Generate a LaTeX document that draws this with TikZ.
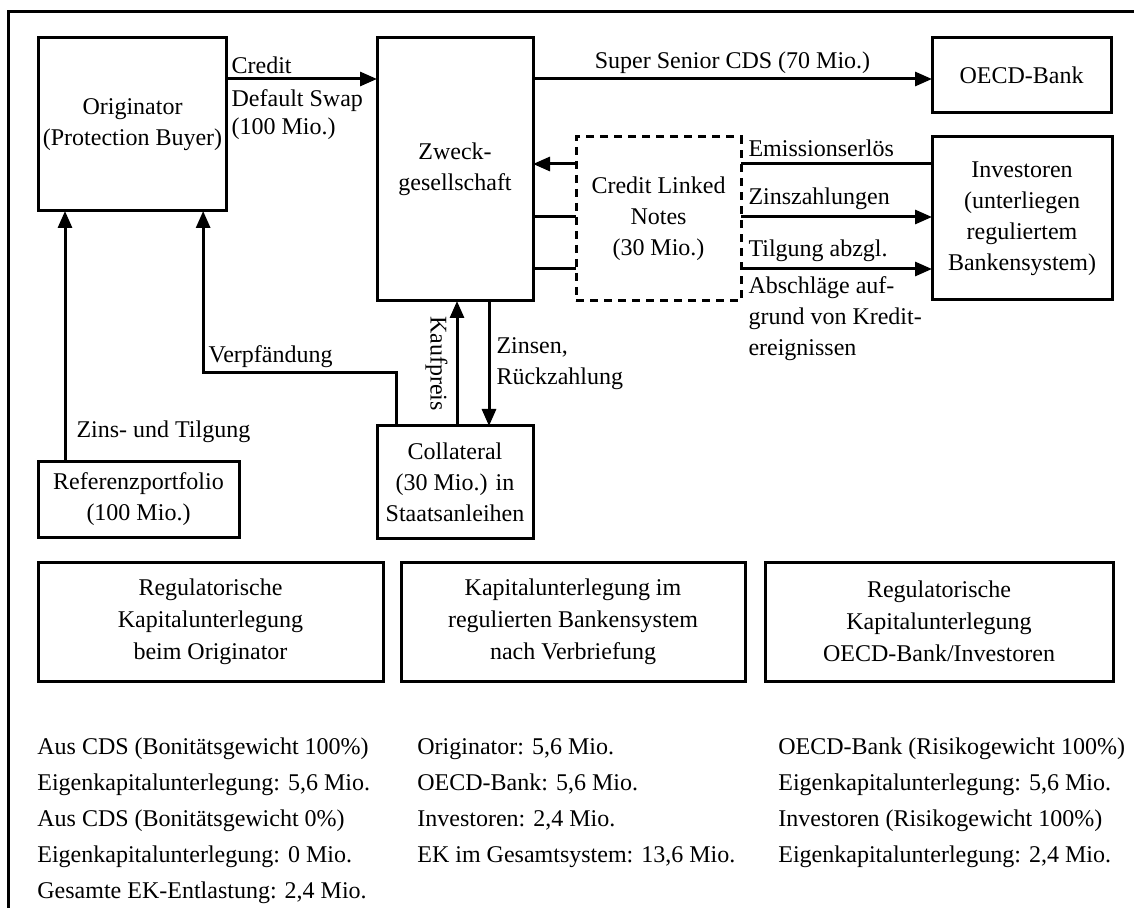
\documentclass[tikz,border=0pt]{standalone}
\usepackage{fontspec}
\setmainfont{Liberation Serif}
\usetikzlibrary{positioning,arrows.meta,calc}

\tikzset{
  box/.style={draw, line width=1.5pt, align=center, inner sep=2pt, outer sep=0pt},
  clnbox/.style={box, dash pattern=on 4pt off 3pt},
  flow/.style={line width=1.5pt},
  arr/.style={flow, -{Triangle[length=8.5pt,width=7pt]}},
  lbl/.style={inner sep=3pt, align=left},
  item/.style={inner sep=0pt, anchor=base west},
}

\begin{document}
\begin{tikzpicture}[x=0.5pt, y=-0.5pt, font=\fontsize{12}{15.5}\selectfont]

  \useasboundingbox (0,0) rectangle (1134,908);
  \draw[flow] (8,908) -- (8,12) -- (1134,12);

  % parties
  \node[box, minimum width=93.5pt, minimum height=86.5pt] (orig) at (132.5,124.5) {Originator\\(Protection Buyer)};
  \node[box, minimum width=78pt, minimum height=131.5pt] (zweck) at (455,169.5) {Zweck-\\gesellschaft};
  \node[box, minimum width=89.5pt, minimum height=37.5pt] (oecd) at (1021.5,75.5) {OECD-Bank};
  \node[clnbox, minimum width=82.5pt, minimum height=82pt] (notes) at (658.5,219) {Credit Linked\\Notes\\(30 Mio.)};
  \node[box, minimum width=90pt, minimum height=81.5pt] (inv) at (1022,218.5) {Investoren\\(unterliegen\\reguliertem\\Bankensystem)};
  \node[box, minimum width=100.5pt, minimum height=37.5pt] (ref) at (138.5,499.5) {Referenzportfolio\\(100 Mio.)};
  \node[box, minimum width=78pt, minimum height=56pt] (coll) [below=62.5pt of zweck] {Collateral\\(30 Mio.) in\\Staatsanleihen};

  % capital boxes
  \node[box, minimum width=172.5pt, minimum height=59.5pt, font=\fontsize{12}{16}\selectfont] (reg1) at (210.5,621.5) {Regulatorische\\Kapitalunterlegung\\beim Originator};
  \node[box, minimum width=172pt, minimum height=59.5pt, font=\fontsize{12}{16}\selectfont] (reg2) at (573,621.5) {Kapitalunterlegung im\\regulierten Bankensystem\\nach Verbriefung};
  \node[box, minimum width=174pt, minimum height=59.5pt, font=\fontsize{12}{16}\selectfont] (reg3) at (939,621.5) {Regulatorische\\Kapitalunterlegung\\OECD-Bank/Investoren};

  % CDS
  \draw[arr] ($(orig.north east)+(0,41)$) -- ($(zweck.north west)+(0,41)$)
    node[lbl, pos=0, anchor=south west, inner sep=2pt] {Credit}
    node[lbl, pos=0, anchor=north west, inner sep=2pt, yshift=-2.5pt, font=\fontsize{12}{14}\selectfont] {Default Swap\\(100 Mio.)};
  \draw[arr] ($(zweck.north east)+(0,41)$) -- ($(oecd.north west)+(0,41)$)
    node[midway, above, inner sep=2pt] {Super Senior CDS (70 Mio.)};

  % credit linked notes
  \coordinate (e1) at ($(notes.north west)+(0,27)$);
  \coordinate (e2) at ($(notes.north west)+(0,80)$);
  \coordinate (e3) at ($(notes.north west)+(0,132)$);
  \coordinate (f1) at ($(notes.north east)+(0,27)$);
  \coordinate (f2) at ($(notes.north east)+(0,80)$);
  \coordinate (f3) at ($(notes.north east)+(0,132)$);
  \draw[arr] (e1) -- (e1 -| zweck.east);
  \draw[flow] (e2 -| zweck.east) -- (e2);
  \draw[flow] (e3 -| zweck.east) -- (e3);
  \draw[flow] (f1) -- (f1 -| inv.west)
    node[lbl, pos=0, anchor=south west] {Emissionserlös};
  \draw[arr] (f2) -- (f2 -| inv.west)
    node[lbl, pos=0, anchor=south west] {Zinszahlungen};
  \draw[arr] (f3) -- (f3 -| inv.west)
    node[lbl, pos=0, anchor=south west] {Tilgung abzgl.}
    node[lbl, pos=0, anchor=north west] {Abschläge auf-\\grund von Kredit-\\ereignissen};

  % collateral
  \coordinate (k) at ($(coll.north)+(2,0)$);
  \coordinate (z) at ($(zweck.south)+(34,0)$);
  \draw[arr] (k) -- (k |- zweck.south)
    node[midway, rotate=-90, anchor=north, inner sep=4pt] {Kaufpreis};
  \draw[arr] (z) -- (z |- coll.north)
    node[lbl, midway, anchor=west] {Zinsen,\\Rückzahlung};
  \coordinate (v) at ($(orig.south east)+(-23,162)$);
  \draw[arr] ($(coll.north)+(-59,0)$) |- (v)
    node[lbl, anchor=south west, inner sep=2pt] {Verpfändung} -- (v |- orig.south);

  % reference portfolio
  \coordinate (zt) at ($(ref.north west)+(27,0)$);
  \draw[arr] (zt) -- (zt |- orig.south)
    node[pos=0.12, anchor=west, inner sep=5pt] {Zins- und Tilgung};

  % lists
  \foreach \t [count=\i from 0] in {Aus CDS (Bonitätsgewicht 100\%), {Eigenkapitalunterlegung: 5,6 Mio.}, Aus CDS (Bonitätsgewicht 0\%), Eigenkapitalunterlegung: 0 Mio., {Gesamte EK-Entlastung: 2,4 Mio.}}
    \node[item] (a\i) at (37,754+36*\i) {\t};
  \foreach \t [count=\i from 0] in {{Originator: 5,6 Mio.}, {OECD-Bank: 5,6 Mio.}, {Investoren: 2,4 Mio.}, {EK im Gesamtsystem: 13,6 Mio.}}
    \node[item] (b\i) at (417,754+36*\i) {\t};
  \foreach \t [count=\i from 0] in {OECD-Bank (Risikogewicht 100\%), {Eigenkapitalunterlegung: 5,6 Mio.}, Investoren (Risikogewicht 100\%), {Eigenkapitalunterlegung: 2,4 Mio.}}
    \node[item] (c\i) at (778,754+36*\i) {\t};

\end{tikzpicture}
\end{document}
